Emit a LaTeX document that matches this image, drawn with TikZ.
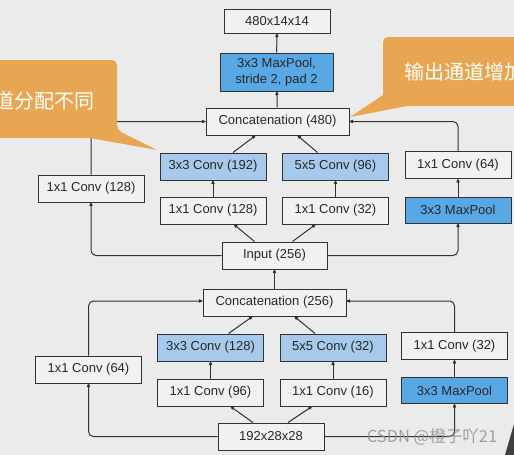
\documentclass[tikz,border=0pt]{standalone}
\usepackage{fontspec}
\setmainfont{Liberation Sans}
\newfontfamily\cjk{Noto Sans CJK SC}
\usepackage{tikz}
\usetikzlibrary{arrows.meta, positioning}
\tikzset{>={Latex[round, length=5pt, width=4pt]}}

\definecolor{bggray}{RGB}{235,235,235}
\definecolor{boxfill}{RGB}{241,241,241}
\definecolor{convblue}{RGB}{166,201,236}
\definecolor{poolblue}{RGB}{88,168,230}
\definecolor{callout}{RGB}{232,166,82}
\definecolor{linegray}{RGB}{50,50,50}
\definecolor{textgray}{RGB}{40,40,40}

\tikzset{
  box/.style={draw=linegray, line width=1pt, fill=boxfill, minimum width=106pt,
              minimum height=27pt, inner sep=0pt, text=textgray,
              font=\fontsize{13}{15.5}\selectfont},
  convbox/.style={box, fill=convblue},
  poolbox/.style={box, fill=poolblue},
  catbox/.style={box, minimum width=143pt},
  link/.style={->, draw=linegray, line width=1pt, rounded corners=5pt}
}

\begin{document}
\begin{tikzpicture}[x=1pt, y=-1pt]

\useasboundingbox (0,0) rectangle (514,455);
\fill[bggray] (0,0) rectangle (514,455);
\clip (0,0) rectangle (514,455);

% --- Output and first inception block ---
\node[box, minimum height=24pt] (out) at (277,21) {480x14x14};
\node[poolbox, minimum width=113pt, minimum height=38pt, align=center] (pool1) at (276.5,72) {3x3 MaxPool,\\stride 2, pad 2};
\node[catbox] (cat1) at (277.5,121.5) {Concatenation (480)};

\node[convbox] (a3) at (213,166.5) {3x3 Conv (192)};
\node[convbox] (a5) at (335.5,166.5) {5x5 Conv (96)};
\node[box] (ar) at (458,165) {1x1 Conv (64)};
\node[box] (al) at (91,188.5) {1x1 Conv (128)};
\node[box] (a1) at (213,210.5) {1x1 Conv (128)};
\node[box] (a2) at (335.5,210.5) {1x1 Conv (32)};
\node[poolbox, minimum height=26pt] (pool2) at (458,210) {3x3 MaxPool};
\node[box, minimum width=105pt] (inp) at (274.5,255.5) {Input (256)};

% --- Second inception block ---
\node[catbox] (cat2) at (274.5,302.5) {Concatenation (256)};
\node[convbox] (b3) at (210.5,347.5) {3x3 Conv (128)};
\node[convbox] (b5) at (333,347.5) {5x5 Conv (32)};
\node[box] (br) at (454.5,346) {1x1 Conv (32)};
\node[box] (bl) at (88.5,369.5) {1x1 Conv (64)};
\node[box] (b1) at (210.5,392.5) {1x1 Conv (96)};
\node[box] (b2) at (333,392.5) {1x1 Conv (16)};
\node[poolbox, minimum height=26pt] (pool3) at (454.5,390.5) {3x3 MaxPool};
\node[box] (base) at (271,436.5) {192x28x28};

% --- Connectors, upper block ---
\draw[link] (cat1) -- (pool1);
\draw[link] (pool1) -- (out);
\draw[link] ([xshift=20pt]a3.north) -- ([xshift=-22pt]cat1.south);
\draw[link] ([xshift=-18pt]a5.north) -- ([xshift=20pt]cat1.south);
\draw[link] (al.north) |- (cat1.west);
\draw[link] (ar.north) |- (cat1.east);
\draw[link] (a1) -- (a3);
\draw[link] (a2) -- (a5);
\draw[link] (pool2) -- (ar);
\draw[link] ([xshift=-20pt]inp.north) -- ([xshift=21pt]a1.south);
\draw[link] ([xshift=18pt]inp.north) -- ([xshift=-20pt]a2.south);
\draw[link] (inp.west) -| (al.south);
\draw[link] (inp.east) -| (pool2.south);

% --- Connectors, lower block ---
\draw[link] (cat2) -- (inp);
\draw[link] ([xshift=18pt]b3.north) -- ([xshift=-22pt]cat2.south);
\draw[link] ([xshift=-18pt]b5.north) -- ([xshift=20pt]cat2.south);
\draw[link] (bl.north) |- ([yshift=1.5pt]cat2.west);
\draw[link] (br.north) |- ([yshift=1.5pt]cat2.east);
\draw[link] (b1) -- (b3);
\draw[link] (b2) -- (b5);
\draw[link] (pool3) -- (br);
\draw[link] ([xshift=-18pt]base.north) -- ([xshift=20pt]b1.south);
\draw[link] ([xshift=17pt]base.north) -- ([xshift=-21pt]b2.south);
\draw[link] (base.west) -| (bl.south);
\draw[link] (base.east) -| (pool3.south);

% --- Callouts ---
\fill[callout] (-10,60) [rounded corners=5pt] -- (117,60) -- (117,130) [sharp corners] -- (157,150) -- (90,138) -- (-10,138) -- cycle;
\node[text=white, anchor=east, font=\cjk\fontsize{20}{22}\selectfont] (left note) at (98,101) {道分配不同};

\fill[callout] (530,37) [rounded corners=5pt] -- (383,37) [sharp corners] -- (383,95) -- (350,117) -- (407,106) -- (530,106) -- cycle;
\node[text=white, anchor=west, font=\cjk\fontsize{20}{22}\selectfont] (right note) at (401,72) {输出通道增加};

% --- Watermark and slide edge ---
\node[text=black!45, opacity=0.8, font=\cjk\fontsize{16.5}{18}\selectfont] (mark) at (432,437) {CSDN @橙子吖21};
\fill[black!75] (505,455) -- (514,424) -- (514,455) -- cycle;

\end{tikzpicture}
\end{document}
